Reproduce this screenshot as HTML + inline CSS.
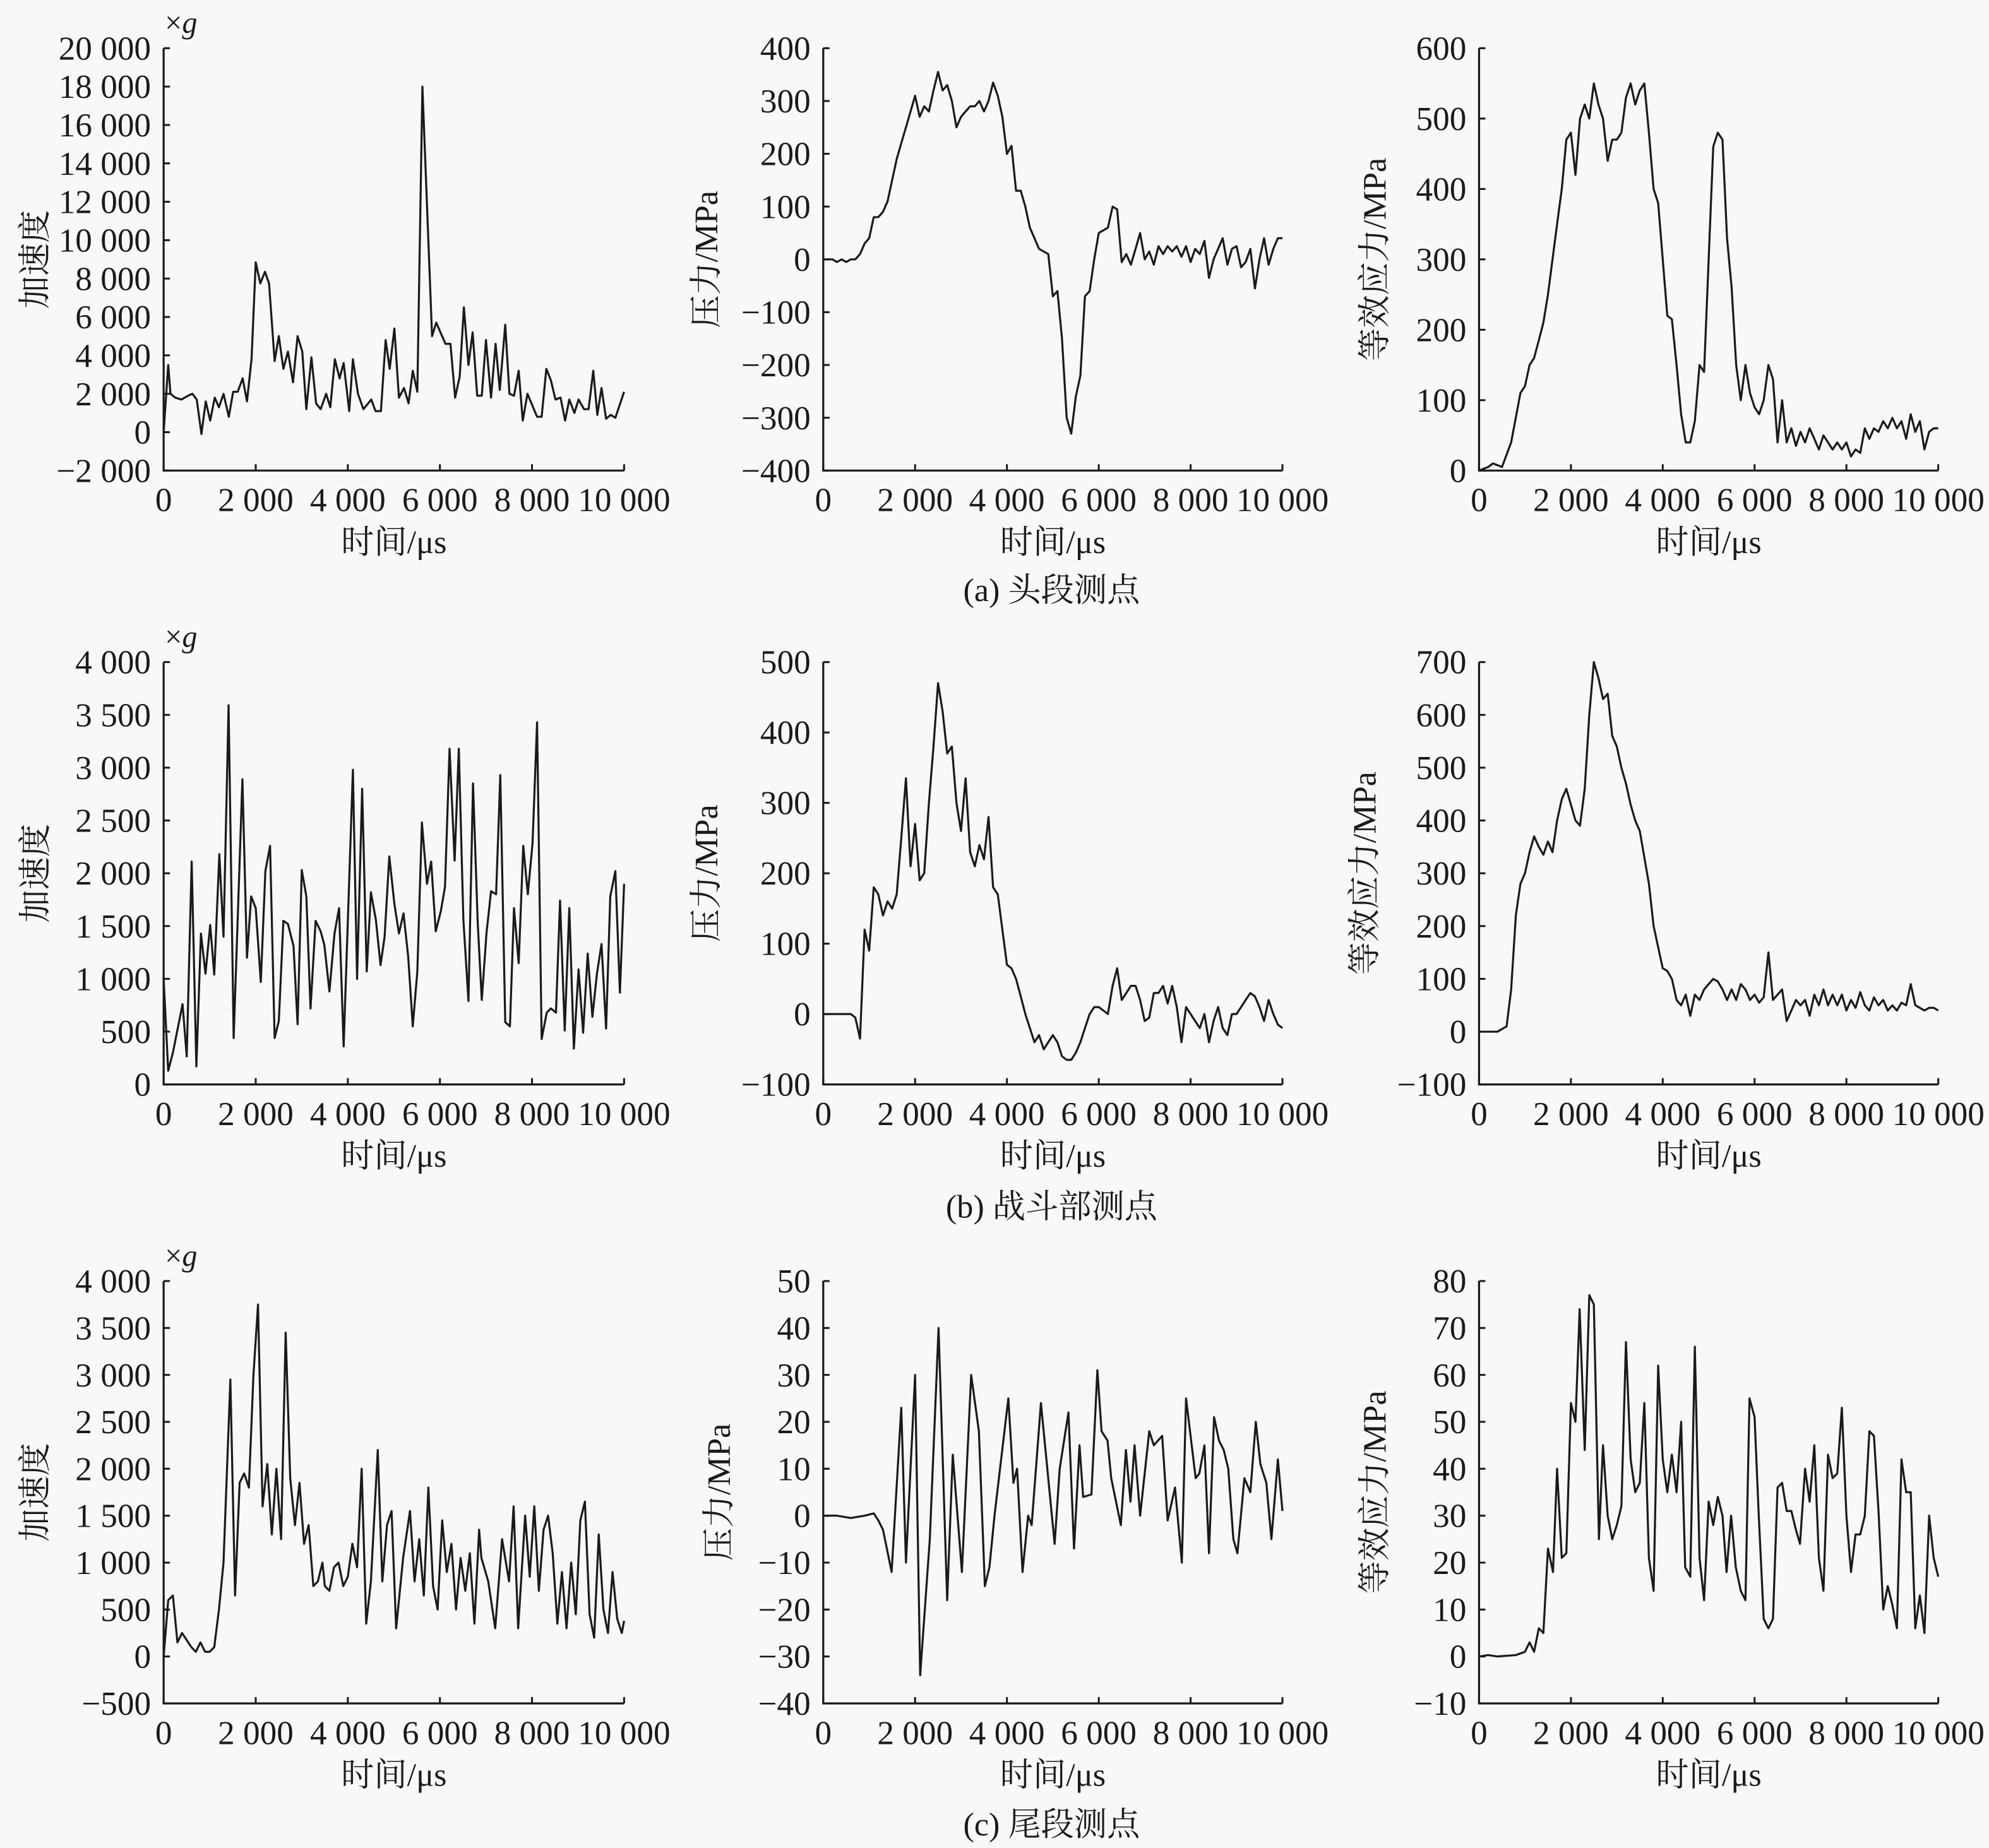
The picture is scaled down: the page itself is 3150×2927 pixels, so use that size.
<!DOCTYPE html>
<html><head><meta charset="utf-8">
<style>
html,body{margin:0;padding:0;background:#f8f8f8;}
svg{display:block;}
text{font-family:"Liberation Serif","Noto Serif CJK SC",serif;fill:#1a1a1a;}
</style></head>
<body>
<svg id="s" width="3150" height="2927" viewBox="0 0 1568 1457" xmlns="http://www.w3.org/2000/svg"></svg>
<script>
const NS="http://www.w3.org/2000/svg";
const S=document.getElementById('s');
function el(t,a,txt){const e=document.createElementNS(NS,t);for(const k in a)e.setAttribute(k,a[k]);if(txt!==undefined)e.textContent=txt;S.appendChild(e);return e;}
function fmt(v){let a=Math.abs(v);let s=String(a);if(a>=1000){s=s.slice(0,s.length-3)+' '+s.slice(-3);}return (v<0?'\u2212':'')+s;}
const cols=[[129,492],[649,1011],[1166,1528]];
const rows=[[38,371],[522,855],[1010,1343]];
function panel(c,r,ymin,ymax,step,ylabel,data,xg,labx){
 const [x0,x1]=cols[c],[yt,yb]=rows[r];
 const X=v=>x0+(x1-x0)*v/10000, Y=v=>yb-(yb-yt)*(v-ymin)/(ymax-ymin);
 el('path',{d:`M${x0},${yt}V${yb}H${x1}`,stroke:'#1a1a1a','stroke-width':1.6,fill:'none'});
 for(let v=ymin;v<=ymax+1e-9;v+=step){const y=Y(v);el('line',{x1:x0,y1:y,x2:x0+5,y2:y,stroke:'#1a1a1a','stroke-width':1.5});
  el('text',{x:x0-10,y:y+9,'font-size':26.5,'text-anchor':'end'},fmt(v));}
 for(let v=0;v<=10000;v+=2000){const x=X(v);el('line',{x1:x,y1:yb,x2:x,y2:yb-5,stroke:'#1a1a1a','stroke-width':1.5});
  el('text',{x:x,y:yb+32,'font-size':26.5,'text-anchor':'middle'},fmt(v));}
 el('text',{x:(x0+x1)/2,y:yb+65,'font-size':26,'text-anchor':'middle'},'时间/μs');
 const cy=(yt+yb)/2;
 el('text',{x:labx,y:cy,'font-size':26,'text-anchor':'middle',transform:`rotate(-90 ${labx} ${cy})`,'dominant-baseline':'central'},ylabel);
 if(xg){const t=el('text',{x:x0+1,y:yt-12,'font-size':24});t.innerHTML='×<tspan font-style="italic">g</tspan>';}
 let d='';data.forEach((p,i)=>{d+=(i?'L':'M')+X(p[0]).toFixed(1)+','+Y(p[1]).toFixed(1);});
 el('path',{d:d,stroke:'#1a1a1a','stroke-width':1.6,fill:'none','stroke-linejoin':'round'});
}
function P(a){const o=[];for(let i=0;i<a.length;i+=2)o.push([a[i],a[i+1]]);return o;}
const a1=P([0,0,100,3500,150,2000,250,1800,385,1700,530,1900,625,2000,720,1700,820,-100,915,1600,1010,600,1110,1800,1200,1300,1300,2000,1415,800,1510,2100,1610,2100,1715,2800,1810,1600,1910,3800,2000,8850,2100,7750,2200,8350,2290,7750,2410,3700,2500,5000,2600,3300,2700,4200,2810,2600,2910,5000,3010,4200,3100,1200,3210,3900,3310,1500,3410,1200,3530,2000,3620,1300,3720,3800,3820,2800,3910,3600,4030,1100,4110,3800,4220,2000,4340,1200,4510,1700,4600,1100,4720,1100,4820,4800,4910,3300,5010,5400,5110,1800,5220,2300,5320,1500,5410,3200,5510,2100,5620,18000,5830,5000,5920,5700,6120,4600,6230,4600,6330,1800,6430,2900,6520,6500,6620,3500,6710,5200,6810,1900,6910,1900,7000,4800,7110,1800,7210,4600,7300,2200,7420,5600,7510,2000,7610,1900,7710,3200,7800,600,7900,2000,8110,800,8210,800,8310,3300,8410,2700,8510,1700,8620,1800,8720,600,8810,1700,8920,1000,9010,1700,9130,1200,9230,1200,9330,3200,9420,900,9510,2300,9610,700,9710,900,9810,750,10000,2100]);
const a2=P([0,0,200,0,300,-5,400,0,500,-5,600,0,700,0,800,10,900,30,1000,40,1100,80,1200,80,1300,90,1400,110,1500,150,1600,190,1700,220,1800,250,1900,280,2000,310,2100,270,2200,290,2300,280,2400,320,2500,355,2600,320,2700,330,2800,300,2900,250,3000,270,3100,280,3200,290,3300,290,3400,300,3500,280,3600,300,3700,335,3800,310,3900,270,4000,200,4100,215,4200,130,4300,130,4400,100,4500,60,4600,40,4700,20,4800,15,4900,10,5000,-70,5100,-60,5200,-150,5300,-300,5400,-330,5500,-260,5600,-220,5700,-70,5800,-60,5900,0,6000,50,6100,55,6200,60,6300,100,6400,95,6500,-5,6600,10,6700,-10,6800,20,6900,50,7000,0,7100,15,7200,-10,7300,25,7400,10,7500,25,7600,15,7700,25,7800,5,7900,25,8000,-5,8100,20,8200,10,8300,35,8400,-35,8500,0,8600,20,8700,40,8800,-10,8900,20,9000,25,9100,-15,9200,-5,9300,20,9400,-55,9500,0,9600,40,9700,-10,9800,20,9900,40,10000,40]);
const a3=P([0,0,200,5,300,10,500,5,700,40,900,110,1000,120,1100,150,1200,160,1300,185,1400,210,1500,250,1600,300,1700,350,1800,400,1900,470,2000,480,2100,420,2200,500,2300,520,2400,500,2500,550,2600,520,2700,500,2800,440,2900,470,3000,470,3100,480,3200,530,3300,550,3400,520,3500,540,3600,550,3700,480,3800,400,3900,380,4000,300,4100,220,4200,215,4300,150,4400,80,4500,40,4600,40,4700,70,4800,150,4900,140,5000,300,5100,460,5200,480,5300,470,5400,330,5500,260,5600,150,5700,100,5800,150,5900,110,6000,90,6100,80,6200,100,6300,150,6400,130,6500,40,6600,100,6700,40,6800,60,6900,35,7000,55,7100,40,7200,60,7300,45,7400,30,7500,50,7600,40,7700,30,7800,40,7900,30,8000,40,8100,20,8200,30,8300,25,8400,60,8500,45,8600,60,8700,55,8800,70,8900,60,9000,75,9100,60,9200,70,9300,45,9400,80,9500,55,9600,70,9700,30,9800,55,9900,60,10000,60]);
const b1=P([0,1000,100,130,200,300,410,760,500,265,610,2110,710,170,810,1430,910,1050,1010,1510,1100,1040,1210,2180,1300,1400,1410,3590,1520,440,1710,2890,1810,1200,1900,1780,2000,1670,2110,970,2210,2020,2310,2260,2410,440,2500,600,2600,1550,2700,1520,2820,1310,2910,570,3000,2030,3100,1780,3190,720,3300,1550,3410,1450,3490,1320,3600,880,3710,1430,3810,1670,3910,360,4110,2980,4200,1000,4310,2800,4410,1070,4500,1820,4610,1560,4710,1130,4800,1400,4900,2160,5010,1710,5110,1430,5210,1620,5310,1210,5410,550,5510,1070,5610,2480,5720,1900,5810,2110,5910,1450,6020,1640,6110,1870,6210,3180,6320,2120,6410,3180,6510,1560,6620,790,6720,2850,6820,1530,6910,800,7010,1430,7110,1830,7220,1800,7310,2930,7420,590,7520,550,7610,1670,7710,1150,7810,2260,7910,1800,8010,2280,8110,3430,8210,430,8320,680,8410,720,8520,680,8610,1740,8710,510,8810,1670,8910,340,9010,1090,9110,490,9210,1240,9310,640,9410,1050,9510,1330,9610,530,9700,1780,9810,2020,9910,870,10000,1900]);
const b2=P([0,0,600,0,700,-5,800,-35,900,120,1000,90,1100,180,1200,170,1300,140,1400,160,1500,150,1600,170,1700,250,1800,335,1900,210,2000,270,2100,190,2200,200,2300,300,2400,380,2500,470,2600,430,2700,370,2800,380,2900,300,3000,260,3100,335,3200,230,3300,210,3400,240,3500,220,3600,280,3700,180,3800,170,3900,120,4000,70,4100,65,4200,50,4300,25,4400,0,4500,-20,4600,-40,4700,-30,4800,-50,4900,-40,5000,-30,5100,-40,5200,-60,5300,-65,5400,-65,5500,-55,5600,-40,5700,-20,5800,0,5900,10,6000,10,6100,5,6200,0,6300,40,6400,65,6500,20,6600,30,6700,40,6800,40,6900,20,7000,-10,7100,-5,7200,30,7300,30,7400,40,7500,15,7600,40,7700,10,7800,-40,7900,10,8000,0,8100,-10,8200,-20,8300,0,8400,-40,8500,-10,8600,10,8700,-20,8800,-30,8900,0,9000,0,9100,10,9200,20,9300,30,9400,25,9500,10,9600,-10,9700,20,9800,0,9900,-15,10000,-20]);
const b3=P([0,0,400,0,500,5,600,10,700,80,800,220,900,280,1000,300,1100,340,1200,370,1300,350,1400,335,1500,360,1600,340,1700,400,1800,440,1900,460,2000,430,2100,400,2200,390,2300,460,2400,600,2500,700,2600,670,2700,630,2800,640,2900,560,3000,540,3100,500,3200,470,3300,430,3400,400,3500,380,3600,330,3700,280,3800,200,3900,160,4000,120,4100,115,4200,100,4300,60,4400,50,4500,70,4600,30,4700,70,4800,60,4900,80,5000,90,5100,100,5200,95,5300,80,5400,60,5500,80,5600,60,5700,90,5800,80,5900,60,6000,70,6100,55,6200,65,6300,150,6400,60,6500,70,6600,80,6700,20,6800,40,6900,60,7000,50,7100,60,7200,30,7300,70,7400,50,7500,80,7600,50,7700,70,7800,50,7900,70,8000,40,8100,60,8200,45,8300,75,8400,50,8500,40,8600,65,8700,50,8800,60,8900,40,9000,50,9100,40,9200,55,9300,50,9400,90,9500,50,9600,45,9700,40,9800,45,9900,45,10000,40]);
const c1=P([0,0,100,600,200,650,300,150,400,250,600,100,700,50,800,150,900,50,1000,50,1100,100,1200,500,1300,1000,1450,2950,1550,650,1650,1850,1750,1950,1850,1800,1950,3000,2050,3750,2150,1600,2250,2050,2350,1300,2450,2000,2550,1250,2650,3450,2750,1900,2850,1400,2950,1850,3050,1200,3150,1400,3250,750,3350,800,3450,1000,3500,750,3600,700,3700,950,3800,1000,3900,750,4000,850,4100,1200,4200,950,4300,2000,4400,350,4500,800,4650,2200,4750,800,4850,1400,4950,1550,5050,300,5200,1050,5350,1550,5450,800,5550,1250,5650,650,5750,1800,5850,750,5950,500,6050,1450,6150,900,6250,1200,6350,500,6450,1050,6550,700,6650,1100,6750,350,6850,1350,6900,1050,7050,800,7200,300,7350,1250,7500,800,7600,1600,7700,300,7850,1500,7950,850,8050,1600,8150,700,8250,1350,8350,1500,8450,1100,8550,350,8650,900,8750,300,8850,1000,8950,450,9050,1450,9150,1650,9250,450,9350,200,9450,1300,9550,500,9650,250,9750,900,9850,400,9950,250,10000,380]);
const c2=P([0,0,300,0,600,-0.5,900,0,1100,0.5,1200,-1,1300,-3,1490,-12,1700,23,1800,-10,2000,30,2110,-34,2320,-5,2510,40,2700,-18,2820,13,3020,-12,3220,30,3390,18,3520,-15,3620,-11,3730,0,4030,25,4140,7,4220,10,4340,-12,4460,0,4540,-2,4740,24,5040,-6,5150,10,5340,22,5460,-7,5580,15,5660,4,5840,4.5,5970,31,6060,18,6190,16,6270,8,6480,-2,6590,14,6690,3,6780,15,6900,0,7100,18,7200,15,7380,17,7500,-1,7660,6,7810,-10,7900,25,8110,8,8190,9,8300,15,8400,-8,8510,21,8620,16,8720,14,8820,10,8930,-5,9020,-8,9170,8,9300,5,9420,20,9520,11,9650,7,9760,-5,9900,12,10000,1]);
const c3=P([0,0,200,0.3,400,0,800,0.3,1000,1,1100,3,1200,1,1300,6,1400,5,1500,23,1610,18,1700,40,1800,21,1900,22,2000,54,2100,50,2190,74,2300,44,2400,77,2500,75,2610,25,2700,45,2800,30,2900,25,3000,28,3100,32,3200,67,3300,42,3400,35,3500,37,3600,54,3700,21,3800,14,3900,62,4000,42,4100,35,4200,43,4300,35,4400,50,4490,19,4600,17,4700,66,4800,21,4900,12,5000,33,5100,28,5200,34,5300,30,5390,18,5490,30,5590,19,5700,14,5800,12,5890,55,6000,51,6090,30,6200,8,6300,6,6400,8,6500,36,6600,37,6700,31,6800,31,6900,27,6990,24,7100,40,7200,33,7300,45,7400,21,7500,14,7600,43,7700,38,7800,39,7900,53,8000,30,8100,18,8200,26,8300,26,8400,30,8500,48,8600,47,8700,31,8800,10,8900,15,9000,11,9100,6,9200,42,9300,35,9400,35,9500,6,9600,13,9700,5,9800,30,9900,21,10000,17]);
panel(0,0,-2000,20000,2000,'加速度',a1,true,28);
panel(1,0,-400,400,100,'压力/MPa',a2,false,557);
panel(2,0,0,600,100,'等效应力/MPa',a3,false,1084);
panel(0,1,0,4000,500,'加速度',b1,true,28);
panel(1,1,-100,500,100,'压力/MPa',b2,false,557);
panel(2,1,-100,700,100,'等效应力/MPa',b3,false,1076);
panel(0,2,-500,4000,500,'加速度',c1,true,28);
panel(1,2,-40,50,10,'压力/MPa',c2,false,567);
panel(2,2,-10,80,10,'等效应力/MPa',c3,false,1084);
el('text',{x:829,y:474,'font-size':26,'text-anchor':'middle'},'(a) 头段测点');
el('text',{x:829,y:960,'font-size':26,'text-anchor':'middle'},'(b) 战斗部测点');
el('text',{x:829,y:1447,'font-size':26,'text-anchor':'middle'},'(c) 尾段测点');
</script>
</body></html>
